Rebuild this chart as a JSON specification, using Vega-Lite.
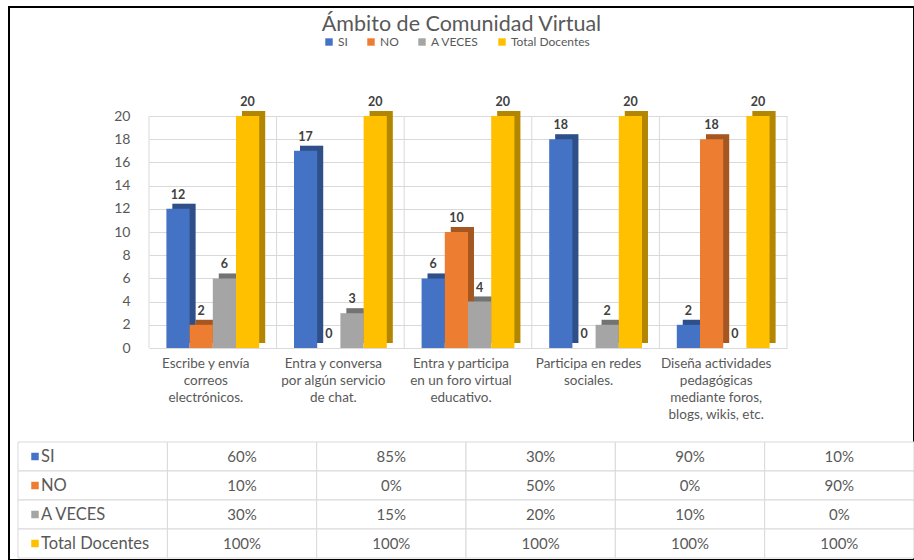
{
  "$schema": "https://vega.github.io/schema/vega-lite/v6.json",
  "width": 905,
  "height": 553,
  "autosize": {"type": "none"},
  "padding": {"left": 9, "top": 7, "right": 0, "bottom": 0},
  "background": "white",
  "title": {
    "text": "Ámbito de Comunidad Virtual",
    "fontSize": 21.5,
    "font": "Lato",
    "fontWeight": "normal",
    "color": "#595959",
    "anchor": "middle",
    "frame": "group",
    "offset": -28
  },
  "data": {
    "values": [
      {"categoria": "Escribe y envía correos electrónicos.", "serie": "SI", "valor": 12, "porcentaje": 0.60},
      {"categoria": "Escribe y envía correos electrónicos.", "serie": "NO", "valor": 2, "porcentaje": 0.10},
      {"categoria": "Escribe y envía correos electrónicos.", "serie": "A VECES", "valor": 6, "porcentaje": 0.30},
      {"categoria": "Escribe y envía correos electrónicos.", "serie": "Total Docentes", "valor": 20, "porcentaje": 1.00},
      {"categoria": "Entra y conversa por algún servicio de chat.", "serie": "SI", "valor": 17, "porcentaje": 0.85},
      {"categoria": "Entra y conversa por algún servicio de chat.", "serie": "NO", "valor": 0, "porcentaje": 0.00},
      {"categoria": "Entra y conversa por algún servicio de chat.", "serie": "A VECES", "valor": 3, "porcentaje": 0.15},
      {"categoria": "Entra y conversa por algún servicio de chat.", "serie": "Total Docentes", "valor": 20, "porcentaje": 1.00},
      {"categoria": "Entra y participa en un foro virtual educativo.", "serie": "SI", "valor": 6, "porcentaje": 0.30},
      {"categoria": "Entra y participa en un foro virtual educativo.", "serie": "NO", "valor": 10, "porcentaje": 0.50},
      {"categoria": "Entra y participa en un foro virtual educativo.", "serie": "A VECES", "valor": 4, "porcentaje": 0.20},
      {"categoria": "Entra y participa en un foro virtual educativo.", "serie": "Total Docentes", "valor": 20, "porcentaje": 1.00},
      {"categoria": "Participa en redes sociales.", "serie": "SI", "valor": 18, "porcentaje": 0.90},
      {"categoria": "Participa en redes sociales.", "serie": "NO", "valor": 0, "porcentaje": 0.00},
      {"categoria": "Participa en redes sociales.", "serie": "A VECES", "valor": 2, "porcentaje": 0.10},
      {"categoria": "Participa en redes sociales.", "serie": "Total Docentes", "valor": 20, "porcentaje": 1.00},
      {"categoria": "Diseña actividades pedagógicas mediante foros, blogs, wikis, etc.", "serie": "SI", "valor": 2, "porcentaje": 0.10},
      {"categoria": "Diseña actividades pedagógicas mediante foros, blogs, wikis, etc.", "serie": "NO", "valor": 18, "porcentaje": 0.90},
      {"categoria": "Diseña actividades pedagógicas mediante foros, blogs, wikis, etc.", "serie": "A VECES", "valor": 0, "porcentaje": 0.00},
      {"categoria": "Diseña actividades pedagógicas mediante foros, blogs, wikis, etc.", "serie": "Total Docentes", "valor": 20, "porcentaje": 1.00}
    ]
  },
  "layer": [
    {
      "encoding": {
        "x": {
          "field": "categoria",
          "type": "nominal",
          "sort": null,
          "scale": {"range": [140, 778], "paddingInner": 0, "paddingOuter": 0},
          "axis": {
            "title": null,
            "orient": "bottom",
            "offset": -212,
            "domain": false,
            "ticks": false,
            "grid": false,
            "labelAngle": 0,
            "labelPadding": 8,
            "labelOffset": -7,
            "labelFont": "Lato",
            "labelFontSize": 13.5,
            "labelColor": "#595959",
            "labelLineHeight": 17,
            "labelBaseline": "top",
            "labelLimit": 200,
            "labelExpr": "{'Escribe y envía correos electrónicos.': ['Escribe y envía','correos','electrónicos.'], 'Entra y conversa por algún servicio de chat.': ['Entra y conversa','por algún servicio','de chat.'], 'Entra y participa en un foro virtual educativo.': ['Entra y participa','en un foro virtual','educativo.'], 'Participa en redes sociales.': ['Participa en redes','sociales.'], 'Diseña actividades pedagógicas mediante foros, blogs, wikis, etc.': ['Diseña actividades','pedagógicas','mediante foros,','blogs, wikis, etc.']}[datum.label]"
          }
        },
        "y": {
          "field": "valor",
          "type": "quantitative",
          "scale": {"domain": [0, 20], "range": [341, 109], "nice": false, "zero": true},
          "axis": {
            "title": null,
            "orient": "left",
            "offset": -140,
            "values": [0, 2, 4, 6, 8, 10, 12, 14, 16, 18, 20],
            "domain": false,
            "ticks": false,
            "grid": true,
            "gridColor": "#D9D9D9",
            "gridWidth": 1,
            "labelPadding": 19,
            "labelFont": "Lato",
            "labelFontSize": 14,
            "labelColor": "#595959"
          }
        }
      },
      "layer": [
        {
          "transform": [{"filter": "datum.serie === 'SI'"}],
          "mark": {"type": "rule", "color": "#D9D9D9", "strokeWidth": 1},
          "encoding": {
            "x": {"field": "categoria", "type": "nominal", "sort": null, "bandPosition": 0},
            "y": {"datum": 0, "type": "quantitative"},
            "y2": {"datum": 20}
          }
        },
        {
          "transform": [{"filter": "datum.serie === 'SI' && datum.categoria === 'Diseña actividades pedagógicas mediante foros, blogs, wikis, etc.'"}],
          "mark": {"type": "rule", "color": "#D9D9D9", "strokeWidth": 1},
          "encoding": {
            "x": {"field": "categoria", "type": "nominal", "sort": null, "bandPosition": 1},
            "y": {"datum": 0, "type": "quantitative"},
            "y2": {"datum": 20}
          }
        },
        {
          "encoding": {
            "xOffset": {
              "field": "serie",
              "type": "nominal",
              "scale": {"domain": ["SI", "NO", "A VECES", "Total Docentes"], "paddingInner": 0, "paddingOuter": 0.75, "align": 0.672}
            }
          },
          "layer": [
            {
              "mark": {"type": "bar", "yOffset": -5},
              "encoding": {
                "color": {
                  "field": "serie",
                  "type": "nominal",
                  "scale": {"domain": ["SI", "NO", "A VECES", "Total Docentes"], "range": ["#4472C4", "#ED7D31", "#A5A5A5", "#FFC000"]},
                  "legend": {
                    "orient": "none",
                    "legendX": 314,
                    "legendY": 29,
                    "direction": "horizontal",
                    "title": null,
                    "symbolType": "square",
                    "symbolSize": 55,
                    "symbolStrokeWidth": 0,
                    "labelFont": "Lato",
                    "labelFontSize": 12,
                    "labelColor": "#595959",
                    "labelOffset": 3,
                    "columnPadding": 17
                  }
                }
              }
            },
            {
              "mark": {"type": "bar", "yOffset": -5, "color": "black", "opacity": 0.3},
              "encoding": {}
            }
          ]
        },
        {
          "encoding": {
            "xOffset": {
              "field": "serie",
              "type": "nominal",
              "scale": {"domain": ["SI", "NO", "A VECES", "Total Docentes"], "paddingInner": 0, "paddingOuter": 0.75, "align": 0.5}
            }
          },
          "layer": [
            {
              "mark": {"type": "bar"},
              "encoding": {
                "color": {"field": "serie", "type": "nominal"}
              }
            },
            {
              "mark": {"type": "text", "dy": -14, "fontWeight": "bold", "fontSize": 12.5, "font": "Lato", "color": "#404040"},
              "encoding": {
                "text": {"field": "valor", "type": "quantitative"}
              }
            }
          ]
        }
      ],
      "resolve": {"scale": {"xOffset": "independent"}}
    },
    {
      "encoding": {
        "y": {
          "field": "serie",
          "type": "nominal",
          "scale": {"domain": ["SI", "NO", "A VECES", "Total Docentes"], "range": [435, 551], "paddingInner": 0, "paddingOuter": 0},
          "axis": null
        }
      },
      "layer": [
        {
          "mark": {"type": "rect", "fill": "white", "stroke": "#D9D9D9", "strokeWidth": 1},
          "encoding": {
            "x": {
              "field": "categoria",
              "type": "nominal",
              "scale": {
                "domain": ["Serie", "Escribe y envía correos electrónicos.", "Entra y conversa por algún servicio de chat.", "Entra y participa en un foro virtual educativo.", "Participa en redes sociales.", "Diseña actividades pedagógicas mediante foros, blogs, wikis, etc."],
                "range": [9, 905],
                "paddingInner": 0,
                "paddingOuter": 0
              },
              "axis": null
            }
          }
        },
        {
          "transform": [{"filter": "datum.categoria === 'Escribe y envía correos electrónicos.'"}],
          "mark": {"type": "rect", "fill": "white", "stroke": "#D9D9D9", "strokeWidth": 1},
          "encoding": {
            "x": {"datum": "Serie", "type": "nominal"}
          }
        },
        {
          "mark": {"type": "text", "font": "Lato", "fontSize": 15, "color": "#595959"},
          "encoding": {
            "x": {"field": "categoria", "type": "nominal"},
            "text": {"field": "porcentaje", "type": "quantitative", "format": ".0%"}
          }
        },
        {
          "transform": [{"filter": "datum.categoria === 'Escribe y envía correos electrónicos.'"}],
          "mark": {"type": "square", "size": 56, "opacity": 1, "xOffset": 17},
          "encoding": {
            "x": {"datum": "Serie", "type": "nominal", "bandPosition": 0},
            "color": {"field": "serie", "type": "nominal"}
          }
        },
        {
          "transform": [{"filter": "datum.categoria === 'Escribe y envía correos electrónicos.'"}],
          "mark": {"type": "text", "align": "left", "dx": 23, "font": "Lato", "fontSize": 16.5, "color": "#595959"},
          "encoding": {
            "x": {"datum": "Serie", "type": "nominal", "bandPosition": 0},
            "text": {"field": "serie", "type": "nominal"}
          }
        }
      ]
    }
  ],
  "resolve": {"scale": {"x": "independent", "y": "independent"}},
  "config": {
    "view": {"stroke": "#000000", "strokeWidth": 2},
    "font": "Lato"
  }
}
